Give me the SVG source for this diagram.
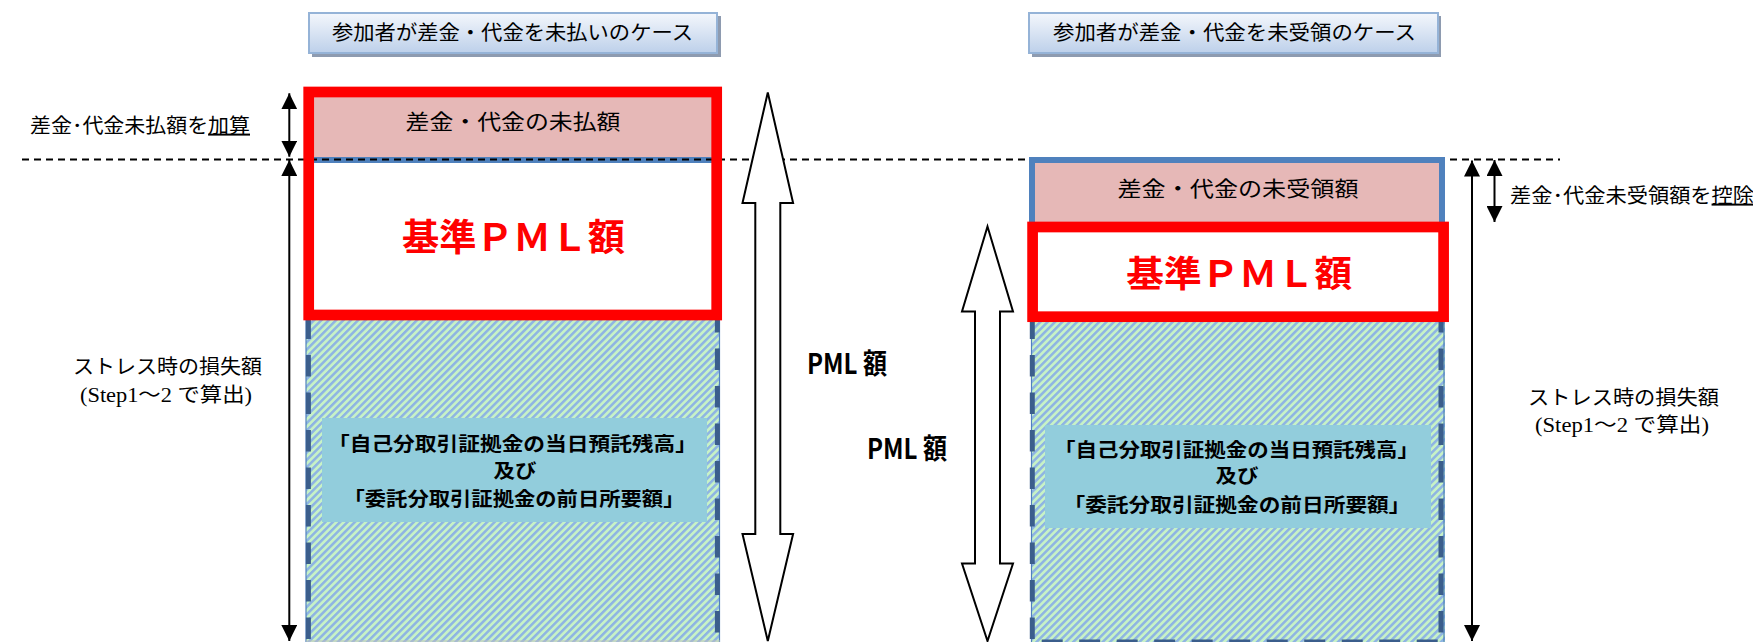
<svg xmlns="http://www.w3.org/2000/svg" width="1753" height="642" viewBox="0 0 1753 642">
<style>
.ser{font-family:"Liberation Serif","Noto Sans CJK JP",serif;fill:#000;}
.bold{font-family:"Noto Sans CJK JP",sans-serif;font-weight:bold;fill:#000;}
.red{font-family:"Noto Sans CJK JP",sans-serif;font-weight:bold;fill:#FF0000;}
.pink{fill:#E6B8B7;}
.blue{fill:#92CDDC;}
.hdr{fill:url(#hg);stroke:#95B3D7;stroke-width:2;}
.shd{fill:#8E9BB0;}
.redbox{fill:none;stroke:#FF0000;stroke-width:10.7;}
.thin{stroke:#4F81BD;stroke-width:1.2;fill:none;}
.dash{stroke:#3B5E8C;stroke-width:5;stroke-dasharray:21.5 16;fill:none;}
.arr{stroke:#000;stroke-width:2;fill:none;marker-start:url(#ah);marker-end:url(#ah);}
.big{fill:#fff;stroke:#000;stroke-width:2;stroke-linejoin:miter;}
</style>
<defs>
<linearGradient id="hg" x1="0" y1="0" x2="0" y2="1">
<stop offset="0" stop-color="#F4F7FC"/>
<stop offset="1" stop-color="#BDD0EA"/>
</linearGradient>
<pattern id="hatch" patternUnits="userSpaceOnUse" width="5.2" height="10" patternTransform="rotate(45)">
<rect width="5.2" height="10" fill="#C7F2C6"/>
<rect width="2.5" height="10" fill="#8EB4E3"/>
</pattern>
<marker id="ah" viewBox="0 0 16 16" refX="16" refY="8" markerWidth="16" markerHeight="16" markerUnits="userSpaceOnUse" orient="auto-start-reverse">
<path d="M0,0 L16,8 L0,16 z" fill="#000"/>
</marker>
</defs>
<rect width="1753" height="642" fill="#fff"/>

<g id="header-left">
<rect class="shd" x="312" y="16" width="409" height="41"/>
<rect class="hdr" x="309" y="13" width="408" height="40"/>
<text class="ser" x="512.5" y="39.6" font-size="20" text-anchor="middle" textLength="361" lengthAdjust="spacingAndGlyphs">参加者が差金・代金を未払いのケース</text>
</g>
<g id="header-right">
<rect class="shd" x="1032" y="16" width="409" height="41"/>
<rect class="hdr" x="1029" y="13" width="409" height="40"/>
<text class="ser" x="1234.5" y="39.6" font-size="20" text-anchor="middle" textLength="363" lengthAdjust="spacingAndGlyphs">参加者が差金・代金を未受領のケース</text>
</g>

<g id="column-left">
<rect x="306" y="318" width="414" height="330" fill="url(#hatch)"/>
<rect class="pink" x="306" y="92" width="414" height="65"/>
<line x1="306" y1="160" x2="720" y2="160" stroke="#4F81BD" stroke-width="6"/>
<line class="thin" x1="306" y1="160" x2="306" y2="642"/>
<line class="thin" x1="719.5" y1="160" x2="719.5" y2="642"/>
<line class="dash" x1="308.4" y1="317.5" x2="308.4" y2="642"/>
<line class="dash" x1="717.4" y1="311" x2="717.4" y2="642"/>
<line x1="306" y1="641" x2="720" y2="641" stroke="#BFBFBF" stroke-width="1"/>
<rect class="blue" x="322" y="418" width="385" height="104"/>
</g>

<g id="reference-line">
<line x1="22" y1="159.5" x2="1560" y2="159.5" stroke="#000" stroke-width="1.8" stroke-dasharray="7 5"/>
</g>

<g id="pml-box-left">
<rect class="redbox" x="308.7" y="92" width="408" height="223"/>
<text class="ser" x="513" y="129" font-size="21" text-anchor="middle" textLength="215" lengthAdjust="spacingAndGlyphs">差金・代金の未払額</text>
<text class="red" x="513.5" y="250.5" font-size="37" text-anchor="middle" textLength="223" lengthAdjust="spacingAndGlyphs">基準ＰＭＬ額</text>
</g>

<g id="column-right">
<rect x="1031" y="316" width="414" height="332" fill="url(#hatch)"/>
<rect class="pink" x="1035" y="163" width="404" height="64"/>
<path d="M1032,230 V160 H1442 V230" fill="none" stroke="#4F81BD" stroke-width="6"/>
<line class="thin" x1="1031.5" y1="320" x2="1031.5" y2="642"/>
<line class="thin" x1="1444" y1="320" x2="1444" y2="642"/>
<line class="dash" x1="1032.3" y1="317.5" x2="1032.3" y2="642"/>
<line class="dash" x1="1441" y1="311" x2="1441" y2="642"/>
<line x1="1041.7" y1="641" x2="1440" y2="641" stroke="#3B5E8C" stroke-width="3" stroke-dasharray="21 16.5"/>
<rect class="blue" x="1045" y="425" width="386" height="103"/>
</g>

<g id="pml-box-right">
<rect class="redbox" x="1032.6" y="227" width="411" height="89.7"/>
<text class="ser" x="1238" y="196" font-size="21" text-anchor="middle" textLength="241" lengthAdjust="spacingAndGlyphs">差金・代金の未受領額</text>
<text class="red" x="1239.3" y="286.5" font-size="36" text-anchor="middle" textLength="226" lengthAdjust="spacingAndGlyphs">基準ＰＭＬ額</text>
</g>

<g id="margin-text-left">
<text class="bold" x="512.5" y="451" font-size="19.5" text-anchor="middle" textLength="369" lengthAdjust="spacingAndGlyphs">「自己分取引証拠金の当日預託残高」</text>
<text class="bold" x="515" y="478" font-size="19.5" text-anchor="middle" textLength="43" lengthAdjust="spacingAndGlyphs">及び</text>
<text class="bold" x="514" y="506" font-size="19.5" text-anchor="middle" textLength="341" lengthAdjust="spacingAndGlyphs">「委託分取引証拠金の前日所要額」</text>
</g>
<g id="margin-text-right">
<text class="bold" x="1236.5" y="456.5" font-size="19.5" text-anchor="middle" textLength="365" lengthAdjust="spacingAndGlyphs">「自己分取引証拠金の当日預託残高」</text>
<text class="bold" x="1237" y="483" font-size="19.5" text-anchor="middle" textLength="43" lengthAdjust="spacingAndGlyphs">及び</text>
<text class="bold" x="1237" y="512" font-size="19.5" text-anchor="middle" textLength="347" lengthAdjust="spacingAndGlyphs">「委託分取引証拠金の前日所要額」</text>
</g>

<g id="connectors">
<polygon class="big" points="767.8,92.5 793.1,203 780.3,203 780.3,534 793.1,534 767.8,641 742.5,534 755.3,534 755.3,203 742.5,203"/>
<polygon class="big" points="987.5,226.5 1013,311.5 1000,311.5 1000,563.5 1013,563.5 987.5,641 962,563.5 975,563.5 975,311.5 962,311.5"/>
<line class="arr" x1="289.3" y1="93.3" x2="289.3" y2="156.7"/>
<line class="arr" x1="289.3" y1="160" x2="289.3" y2="641"/>
<line class="arr" x1="1472" y1="160.5" x2="1472" y2="641"/>
<line class="arr" x1="1494.5" y1="160" x2="1494.5" y2="222"/>
</g>

<g id="label-pml-left">
<text class="bold" x="807" y="374" font-size="28" textLength="80" lengthAdjust="spacingAndGlyphs">PML 額</text>
</g>
<g id="label-pml-right">
<text class="bold" x="867" y="459" font-size="28" textLength="80" lengthAdjust="spacingAndGlyphs">PML 額</text>
</g>

<g id="label-add">
<text class="ser" x="30" y="132.6" font-size="20" textLength="220" lengthAdjust="spacingAndGlyphs">差金･代金未払額を<tspan text-decoration="underline">加算</tspan></text>
</g>
<g id="label-deduct">
<text class="ser" x="1510" y="202.6" font-size="20" textLength="244" lengthAdjust="spacingAndGlyphs">差金･代金未受領額を<tspan text-decoration="underline">控除</tspan></text>
</g>

<g id="label-stress-left">
<text class="ser" x="167.5" y="373.6" font-size="20" text-anchor="middle" textLength="189" lengthAdjust="spacingAndGlyphs">ストレス時の損失額</text>
<text class="ser" x="166" y="401.6" font-size="20" text-anchor="middle" textLength="172" lengthAdjust="spacingAndGlyphs">(Step1～2 で算出)</text>
</g>
<g id="label-stress-right">
<text class="ser" x="1623.5" y="404.6" font-size="20" text-anchor="middle" textLength="191" lengthAdjust="spacingAndGlyphs">ストレス時の損失額</text>
<text class="ser" x="1622" y="431.6" font-size="20" text-anchor="middle" textLength="174" lengthAdjust="spacingAndGlyphs">(Step1～2 で算出)</text>
</g>
</svg>
